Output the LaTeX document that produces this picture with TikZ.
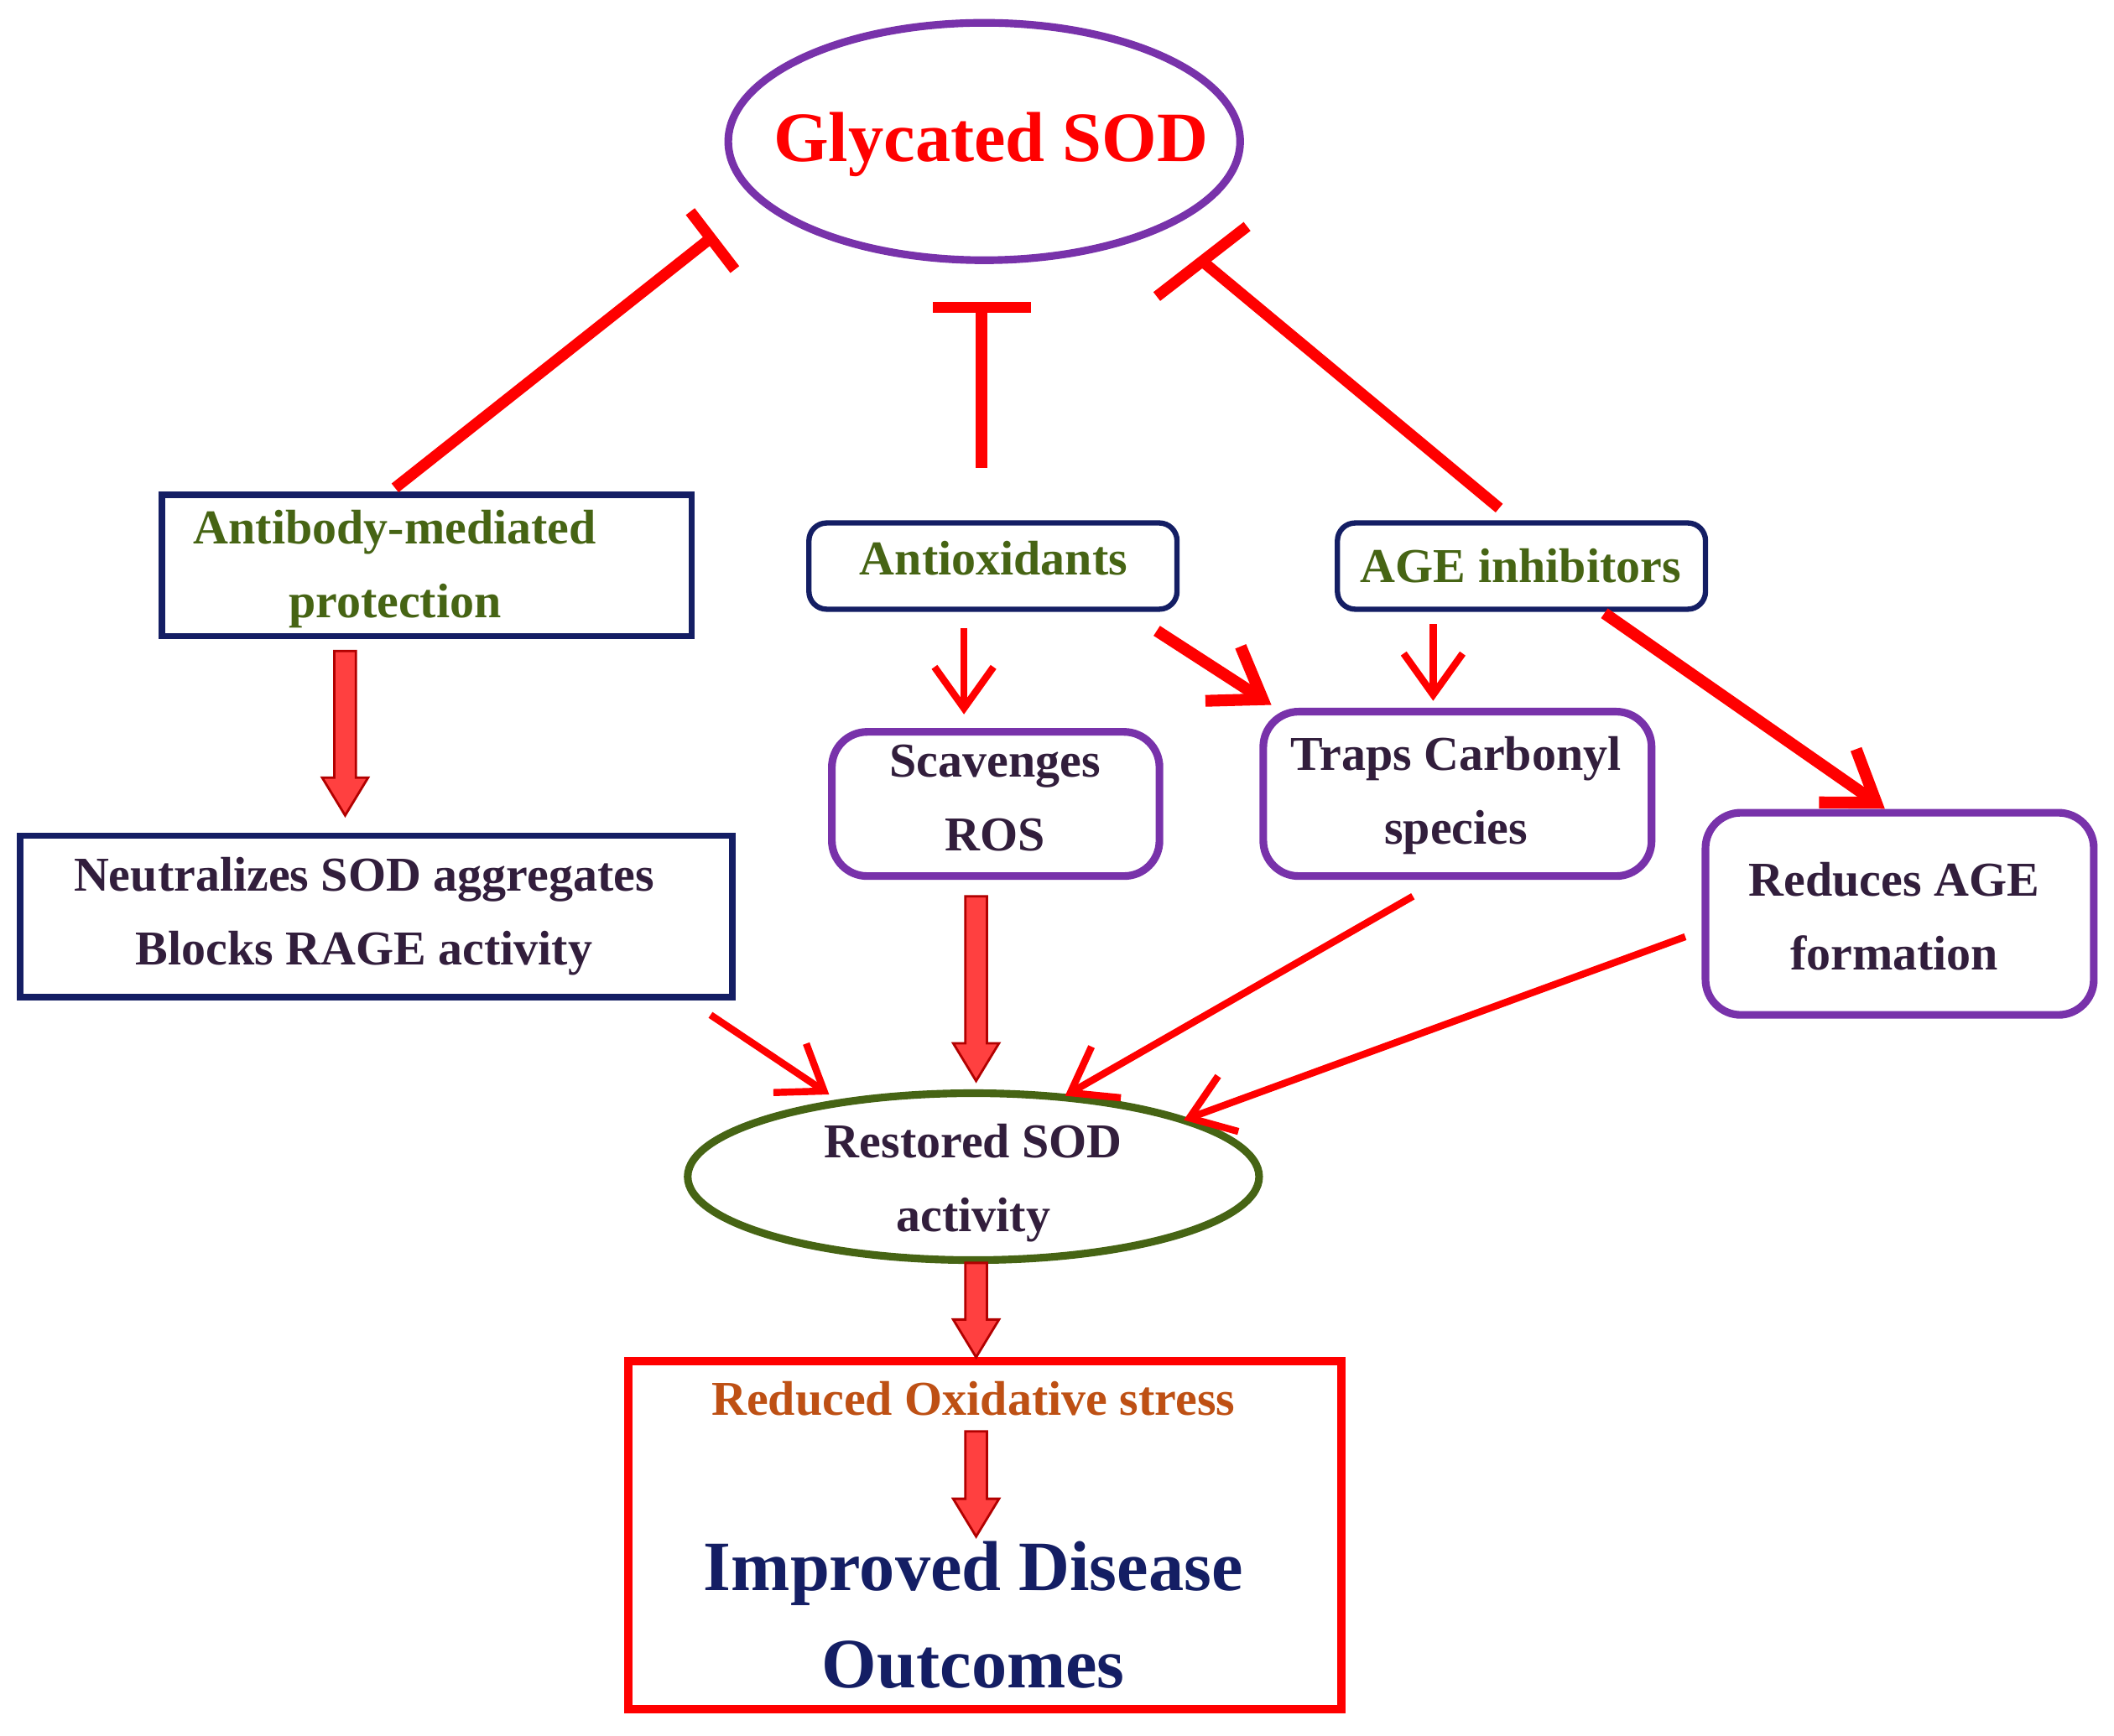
\documentclass[tikz,border=0pt]{standalone}
\usepackage{fontspec}
\setmainfont{Liberation Serif}
\usetikzlibrary{arrows.meta,shapes.geometric}
\definecolor{nav}{RGB}{20,30,100}
\definecolor{grn}{RGB}{70,100,20}
\definecolor{pur}{RGB}{120,50,170}
\definecolor{dtx}{RGB}{50,30,60}
\definecolor{brn}{RGB}{190,80,20}
\begin{document}
\begin{tikzpicture}[x=0.01607cm,y=-0.01607cm,
  txt/.style={font=\bfseries\fontsize{16.5}{25}\selectfont,align=center},
  bx/.style={draw=nav,line width=2.2pt},
  rb/.style={draw=nav,line width=1.8pt,rounded corners=6pt},
  pb/.style={draw=pur,line width=2.6pt,rounded corners=12pt},
  inh/.style={draw=red,line width=3.8pt},
  thin/.style={draw=red,line width=2.4pt,-{Straight Barb[length=14pt,width=20pt,line width=2.4pt]}},
  thk/.style={draw=red,line width=4pt,-{Straight Barb[length=16pt,width=22pt,line width=4pt]}},
  blk/.style={draw=red!70!black,line width=0.8pt,fill=red!75!white}]
\useasboundingbox (0,0) rectangle (1568,1288);
% glycated
\node[draw=pur,line width=2.6pt,ellipse,minimum width=6.1cm,minimum height=2.83cm] (g) at (730,105) {};
\node[text=red,font=\bfseries\fontsize{24}{27}\selectfont] at (735,107) {Glycated SOD};
% boxes
\draw[bx] (120,367) rectangle (513,472);
\node[txt,text=grn] (ab) at (293,422) {Antibody-mediated\\protection};
\draw[rb] (600,388) rectangle (873,452);
\node[txt,text=grn] (ao) at (737,414) {Antioxidants};
\draw[rb] (992,388) rectangle (1265,452);
\node[txt,text=grn] (ai) at (1128,420) {AGE inhibitors};
\draw[bx] (15,620) rectangle (543,740);
\node[txt,text=dtx] (ne) at (270,680) {Neutralizes SOD aggregates\\Blocks RAGE activity};
\draw[pb] (617,543) rectangle (860,650);
\node[txt,text=dtx] (sc) at (738,592) {Scavenges\\ROS};
\draw[pb] (937,528) rectangle (1225,650);
\node[txt,text=dtx] (tr) at (1080,590) {Traps Carbonyl\\species};
\draw[pb] (1265,603) rectangle (1553,753);
\node[txt,text=dtx] (re) at (1405,680) {Reduces AGE\\formation};
\node[draw=grn,line width=2.6pt,ellipse,minimum width=6.81cm,minimum height=1.99cm] (rs) at (722,873) {};
\node[txt,text=dtx] at (722,878) {Restored SOD\\activity};
\draw[red,line width=2.8pt] (466,1010) rectangle (995,1268);
\node[txt,text=brn] (ro) at (722,1038) {Reduced Oxidative stress};
\node[font=\bfseries\fontsize{24}{33}\selectfont,align=center,text=nav] (im) at (722,1198) {Improved Disease\\Outcomes};
% inhibition
\coordinate (a1) at (293,362); \coordinate (a2) at (528,176);
\draw[inh] (a1) -- (a2); \draw[inh] (512,157) -- (545,200);
\coordinate (b1) at (728,347); \coordinate (b2) at (728,228);
\draw[inh] (b1) -- (b2); \draw[inh] (692,228) -- (765,228);
\coordinate (c1) at (1112,377); \coordinate (c2) at (892,194);
\draw[inh] (c1) -- (c2); \draw[inh] (858,220) -- (925,168);
% block arrows
\foreach \x/\ya/\yb in {256/483/605, 724/665/802, 724/937/1007, 724/1062/1140}{
  \draw[blk] (\x-8,\ya) -- (\x+8,\ya) -- (\x+8,\yb-28) -- (\x+17,\yb-28) -- (\x,\yb) -- (\x-17,\yb-28) -- (\x-8,\yb-28) -- cycle;}
% arrows
\coordinate (p1) at (715,466); \coordinate (p2) at (715,530);
\draw[thin] (p1) -- (p2);
\coordinate (q1) at (1063,463); \coordinate (q2) at (1063,520);
\draw[thin] (q1) -- (q2);
\coordinate (r1) at (858,468); \coordinate (r2) at (943,523);
\draw[thk] (r1) -- (r2);
\coordinate (s1) at (1190,455); \coordinate (s2) at (1398,600);
\draw[thk] (s1) -- (s2);
\coordinate (t1) at (527,753); \coordinate (t2) at (615,812);
\draw[thin] (t1) -- (t2);
\coordinate (u1) at (1048,665); \coordinate (u2) at (790,813);
\draw[thin] (u1) -- (u2);
\coordinate (v1) at (1250,695); \coordinate (v2) at (878,831);
\draw[thin] (v1) -- (v2);
\end{tikzpicture}
\end{document}
